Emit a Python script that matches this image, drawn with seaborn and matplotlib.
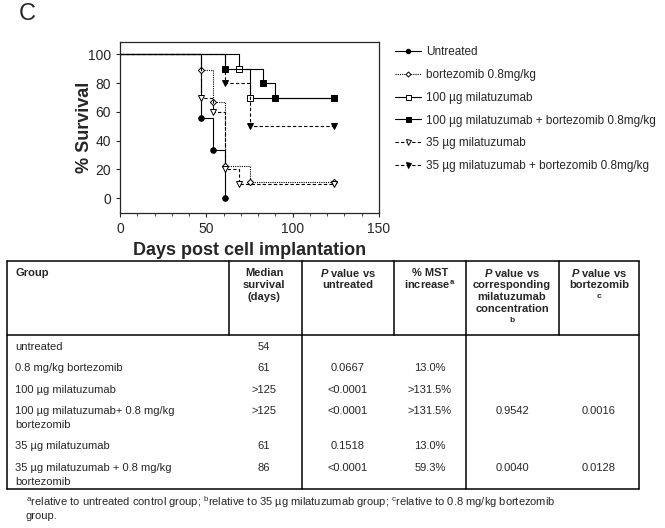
import matplotlib
matplotlib.use("Agg")
import matplotlib.pyplot as plt
from matplotlib.lines import Line2D
import seaborn as sns
import pandas as pd

sns.set_style("ticks")
plt.rcParams['font.family'] = ['Liberation Sans', 'DejaVu Sans']
plt.rcParams['mathtext.fontset'] = 'custom'
plt.rcParams['mathtext.rm'] = 'Liberation Sans'
plt.rcParams['mathtext.it'] = 'Liberation Sans:italic:bold'
plt.rcParams['mathtext.bf'] = 'Liberation Sans:bold'

# Kaplan-Meier curves (days, % survival)
groups = ["Untreated", "bortezomib 0.8mg/kg", "100 µg milatuzumab",
          "100 µg milatuzumab + bortezomib 0.8mg/kg", "35 µg milatuzumab",
          "35 µg milatuzumab + bortezomib 0.8mg/kg"]
untreated_days = [0, 47, 54, 61]
untreated_surv = [100, 55.6, 33.3, 0]
bz_days = [0, 47, 54, 61, 75, 124]
bz_surv = [100, 88.9, 66.7, 22.2, 11.1, 11.1]
m100_days = [0, 69, 75, 124]
m100_surv = [100, 90, 70, 70]
m100bz_days = [0, 61, 83, 90, 124]
m100bz_surv = [100, 90, 80, 70, 70]
m35_days = [0, 47, 54, 61, 69, 124]
m35_surv = [100, 70, 60, 20, 10, 10]
m35bz_days = [0, 61, 75, 124]
m35bz_surv = [100, 80, 50, 50]

# table
header = ["Group", "Median\nsurvival\n(days)", "$\\mathit{P}$ value vs\nuntreated",
          "% MST\nincrease$^{\\mathbf{a}}$",
          "$\\mathit{P}$ value vs\ncorresponding\nmilatuzumab\nconcentration",
          "$\\mathit{P}$ value vs\nbortezomib"]
tbl_groups = ["untreated", "0.8 mg/kg bortezomib", "100 µg milatuzumab",
              "100 µg milatuzumab+ 0.8 mg/kg\nbortezomib", "35 µg milatuzumab",
              "35 µg milatuzumab + 0.8 mg/kg\nbortezomib"]
median = ["54", "61", ">125", ">125", "61", "86"]
p_untreated = ["", "0.0667", "<0.0001", "<0.0001", "0.1518", "<0.0001"]
mst = ["", "13.0%", ">131.5%", ">131.5%", "13.0%", "59.3%"]
p_mila = ["", "", "", "0.9542", "", "0.0040"]
p_bz = ["", "", "", "0.0016", "", "0.0128"]
footnote = ("$^{\\mathrm{a}}$relative to untreated control group; "
            "$^{\\mathrm{b}}$relative to 35 µg milatuzumab group; "
            "$^{\\mathrm{c}}$relative to 0.8 mg/kg bortezomib\ngroup.")

W, H = 665, 528
fig = plt.figure(figsize=(W / 100, H / 100), dpi=100)


def fx(x):
    return x / W


def fy(y):
    return 1 - y / H


ax = fig.add_axes([fx(120), fy(213), (379 - 120) / W, (213 - 42) / H])

styles = [
    dict(ls="-", marker="o", mfc="black", ms=4),
    dict(ls=(0, (1, 1)), marker="D", mfc="white", ms=3.2),
    dict(ls="-", marker="s", mfc="white", ms=4.5),
    dict(ls="-", marker="s", mfc="black", ms=4.5),
    dict(ls=(0, (3, 2)), marker="v", mfc="white", ms=4.5),
    dict(ls=(0, (3, 2)), marker="v", mfc="black", ms=4.5),
]
curves = [(untreated_days, untreated_surv), (bz_days, bz_surv), (m100_days, m100_surv),
          (m100bz_days, m100bz_surv), (m35_days, m35_surv), (m35bz_days, m35bz_surv)]

handles = []
for name, (d, s), st in zip(groups, curves, styles):
    df = pd.DataFrame({"day": d, "surv": s})
    sns.lineplot(data=df, x="day", y="surv", ax=ax, estimator=None, sort=False,
                 drawstyle="steps-post", color="black", lw=0.8, linestyle=st["ls"])
    ax.plot(df["day"][1:], df["surv"][1:], ls="none", marker=st["marker"],
            mfc=st["mfc"], mec="black", mew=0.7, ms=st["ms"])
    handles.append(Line2D([], [], color="black", lw=0.8, linestyle=st["ls"],
                          marker=st["marker"], mfc=st["mfc"], mec="black",
                          mew=0.7, ms=st["ms"] * 0.8))

ax.set_xlim(0, 150)
ax.set_ylim(-10.4, 108.7)
ax.set_xticks([0, 50, 100, 150])
ax.set_xticks(range(0, 151, 10), minor=True)
ax.set_yticks(range(0, 101, 20))
ax.tick_params(labelsize=10, length=3, width=0.8, direction="out")
ax.tick_params(which="minor", length=2, width=0.6)
for sp in ax.spines.values():
    sp.set_linewidth(0.9)
ax.set_xlabel("Days post cell implantation", fontsize=13, fontweight="bold", labelpad=4)
ax.set_ylabel("% Survival", fontsize=13, fontweight="bold", labelpad=-4)

ax.legend(handles, groups, loc="upper left", bbox_to_anchor=(fx(395), fy(46)),
          bbox_transform=fig.transFigure, frameon=False, fontsize=8.5,
          handlelength=2.2, handletextpad=0.4, labelspacing=0.92,
          borderpad=0, borderaxespad=0)

fig.text(fx(27), fy(14), "C", fontsize=17, ha="center", va="center")

# table lines
lw = 1.1
def hline(y, x0, x1):
    fig.add_artist(Line2D([fx(x0), fx(x1)], [fy(y), fy(y)], color="black", lw=lw))


def vline(x, y0, y1):
    fig.add_artist(Line2D([fx(x), fx(x)], [fy(y0), fy(y1)], color="black", lw=lw))


top, hdr, bot, left, right = 261, 335, 489, 7, 639
hline(top, left, right)
hline(hdr, left, right)
hline(bot, left, right)
vline(left, top, bot)
vline(right, top, bot)
for x in [229, 394, 559]:
    vline(x, top, hdr)
for x in [302, 466]:
    vline(x, top, bot)

fs = 8
lh = 12
col_x = [15, 264, 348, 430, 512, 599]
for i, (h, x) in enumerate(zip(header, col_x)):
    for j, line in enumerate(h.split("\n")):
        fig.text(fx(x), fy(273 + lh * j), line, fontsize=fs, fontweight="bold",
                 ha="left" if i == 0 else "center", va="center")
fig.text(fx(512), fy(320), "b", fontsize=6, fontweight="bold", ha="center", va="center")
fig.text(fx(599), fy(296), "c", fontsize=6, fontweight="bold", ha="center", va="center")

row_y = [347, 368, 390, 411, 446, 468]
for r, y in enumerate(row_y):
    for j, line in enumerate(tbl_groups[r].split("\n")):
        fig.text(fx(col_x[0]), fy(y + 14 * j), line, fontsize=fs, ha="left", va="center")
    for vals, x in zip([median, p_untreated, mst, p_mila, p_bz], col_x[1:]):
        fig.text(fx(x), fy(y), vals[r], fontsize=fs, ha="center", va="center")

for j, line in enumerate(footnote.split("\n")):
    fig.text(fx(26), fy(502 + 14 * j), line, fontsize=fs, ha="left", va="center")

fig.savefig("out.png", dpi=100)
